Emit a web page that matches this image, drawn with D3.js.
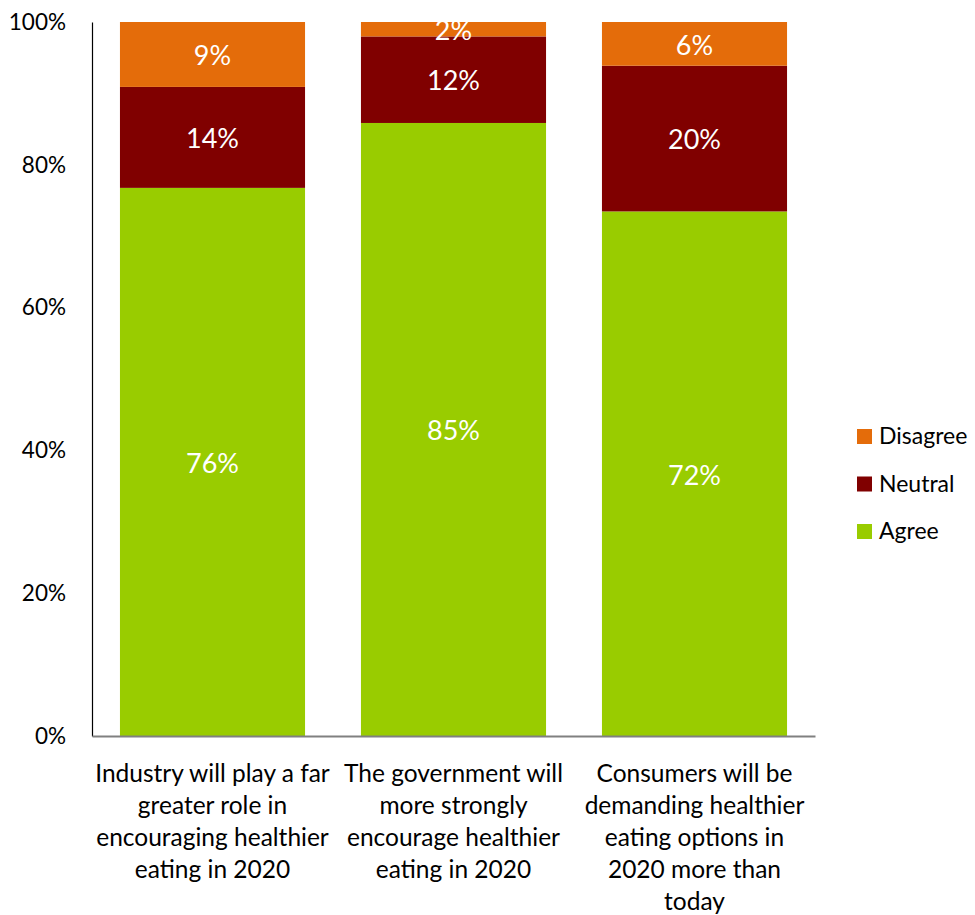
<!DOCTYPE html>
<html>
<head>
<meta charset="utf-8">
<script src="https://cdn.jsdelivr.net/npm/d3@7"></script>
<style>
  html, body { margin: 0; padding: 0; background: #fff; }
  svg text { font-family: Lato, "Noto Sans", sans-serif; }
</style>
</head>
<body>
<svg id="chart" width="975" height="915"></svg>
<script>
// Survey statements (x categories), one line per wrapped row
const categories = [
  ["Industry will play a far", "greater role in", "encouraging healthier", "eating in 2020"],
  ["The government will", "more strongly", "encourage healthier", "eating in 2020"],
  ["Consumers will be", "demanding healthier", "eating options in", "2020 more than", "today"]
];
const seriesNames = ["Agree", "Neutral", "Disagree"];
const agree    = [76, 85, 72];
const neutral  = [14, 12, 20];
const disagree = [9, 2, 6];
const yTicks = [0, 0.2, 0.4, 0.6, 0.8, 1.0];
const colors = { Agree: "#99CC00", Neutral: "#800000", Disagree: "#E46C0A" };

const svg = d3.select("#chart");
const plotLeft = 92, plotRight = 815, plotTop = 22, plotBottom = 736;

// Build rows, each stack normalised to 100%
const rows = categories.map((c, i) => ({
  key: i, Agree: agree[i], Neutral: neutral[i], Disagree: disagree[i]
}));
const stack = d3.stack().keys(seriesNames).offset(d3.stackOffsetExpand);
const layers = stack(rows);

const x = d3.scaleBand().domain(d3.range(categories.length))
  .range([plotLeft, plotRight]).paddingInner(0.232).paddingOuter(0.116);
const y = d3.scaleLinear().domain([0, 1]).range([plotBottom, plotTop]);

// Bars
const g = svg.append("g");
layers.forEach(layer => {
  g.selectAll(null).data(layer).enter().append("rect")
    .attr("x", (d, i) => x(i))
    .attr("width", x.bandwidth())
    .attr("y", d => y(d[1]))
    .attr("height", d => y(d[0]) - y(d[1]))
    .attr("fill", colors[layer.key]);
});

// Value labels, centred in each segment
layers.forEach(layer => {
  g.selectAll(null).data(layer).enter().append("text")
    .attr("x", (d, i) => x(i) + x.bandwidth() / 2)
    .attr("y", d => (y(d[0]) + y(d[1])) / 2)
    .attr("dy", "0.4em")
    .attr("text-anchor", "middle")
    .attr("fill", "#fff")
    .attr("font-size", 27)
    .text(d => d.data[layer.key] + "%");
});

// Y axis
const yAxis = d3.axisLeft(y).tickValues(yTicks).tickFormat(d3.format(".0%")).tickSize(0).tickPadding(26);
const ya = svg.append("g").attr("transform", `translate(${plotLeft},0)`).call(yAxis);
ya.select(".domain").attr("stroke", "#000").attr("stroke-width", 1.2);
ya.selectAll("text").attr("font-size", 22.5).attr("fill", "#000")
  .style("font-family", "Lato, 'Noto Sans', sans-serif");

// X axis baseline
const xAxis = d3.axisBottom(x).tickSize(0).tickFormat("");
const xa = svg.append("g").attr("transform", `translate(0,${plotBottom})`).call(xAxis);
xa.select(".domain").attr("stroke", "#808080").attr("stroke-width", 2);

// Wrapped category labels
categories.forEach((lines, i) => {
  const t = svg.append("text")
    .attr("text-anchor", "middle")
    .attr("font-size", 24.5)
    .attr("fill", "#000");
  lines.forEach((ln, j) => {
    t.append("tspan")
      .attr("x", x(i) + x.bandwidth() / 2)
      .attr("y", 773 + j * 32)
      .attr("dy", "0.36em")
      .text(ln);
  });
});

// Legend (top-down: Disagree, Neutral, Agree)
const legendItems = seriesNames.slice().reverse();
const lg = svg.append("g");
legendItems.forEach((name, i) => {
  const cy = 436 + i * 47.5;
  lg.append("rect").attr("x", 857).attr("y", cy - 7).attr("width", 15).attr("height", 15)
    .attr("fill", colors[name]);
  lg.append("text").attr("x", 879).attr("y", cy).attr("dy", "0.36em")
    .attr("font-size", 23).attr("fill", "#000").text(name);
});
</script>
</body>
</html>
